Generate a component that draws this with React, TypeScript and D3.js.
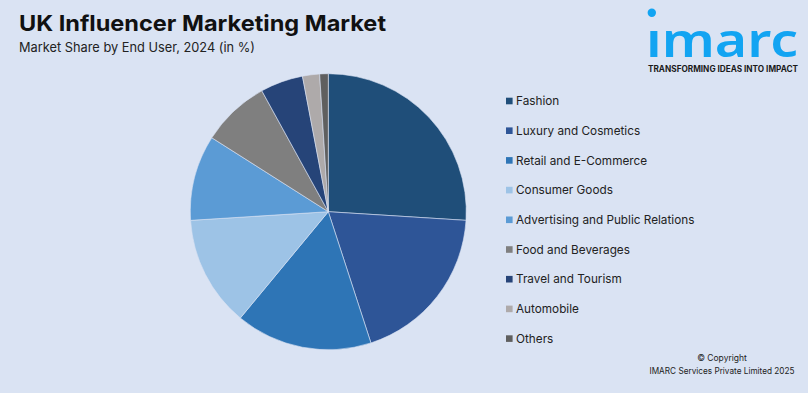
import * as d3 from "d3";

const categories = [
  "Fashion",
  "Luxury and Cosmetics",
  "Retail and E-Commerce",
  "Consumer Goods",
  "Advertising and Public Relations",
  "Food and Beverages",
  "Travel and Tourism",
  "Automobile",
  "Others",
];
const shares = [26, 19, 16, 13, 10, 8, 5, 2, 1];
const colors = [
  "#1f4e79",
  "#2e5597",
  "#2e75b6",
  "#9dc3e6",
  "#5b9bd5",
  "#7f7f7f",
  "#264478",
  "#aeaaaa",
  "#5f5f5f",
];

const W = 808;
const H = 393;
const BG = "#dae3f3";
const FONT = "Inter, 'Liberation Sans', sans-serif";

export default function App() {
  const cx = 328.3;
  const cy = 211.7;
  const radius = 138;

  const pie = d3
    .pie<number>()
    .sort(null)
    .value((d) => d);
  const arc = d3.arc<d3.PieArcDatum<number>>().innerRadius(0).outerRadius(radius);
  const arcs = pie(shares);

  const legendY = d3
    .scalePoint<string>()
    .domain(categories)
    .range([101, 338.6]);

  return (
    <div style={{ position: "fixed", left: 0, top: 0 }}>
      <svg width={W} height={H} viewBox={`0 0 ${W} ${H}`} style={{ display: "block" }}>
        <rect width={W} height={H} fill={BG} />

        <text
          x={19}
          y={30.5}
          fontFamily={FONT}
          fontWeight={700}
          fontSize={22}
          fill="#111"
          textLength={367}
          lengthAdjust="spacingAndGlyphs"
        >
          UK Influencer Marketing Market
        </text>
        <text
          x={19}
          y={51.5}
          fontFamily={FONT}
          fontSize={13}
          fill="#222"
          textLength={236}
          lengthAdjust="spacingAndGlyphs"
        >
          Market Share by End User, 2024 (in %)
        </text>

        {/* logo */}
        <g fill="#12a4f2">
          <circle cx={651.8} cy={12.8} r={4.2} />
          <text
            x={646}
            y={57}
            fontFamily="'Noto Sans', sans-serif"
            fontWeight={600}
            fontSize={46}
            textLength={152}
            lengthAdjust="spacingAndGlyphs"
          >
            ımarc
          </text>
        </g>
        <text
          x={648}
          y={72}
          fontFamily={FONT}
          fontWeight={700}
          fontSize={8.4}
          fill="#1a1a1a"
          textLength={150}
          lengthAdjust="spacingAndGlyphs"
        >
          TRANSFORMING IDEAS INTO IMPACT
        </text>

        <g transform={`translate(${cx},${cy})`}>
          {arcs.map((a, i) => (
            <path key={categories[i]} d={arc(a) ?? ""} fill={colors[i]} stroke={BG} strokeWidth={0.6} />
          ))}
        </g>

        <g>
          {categories.map((c, i) => {
            const y = legendY(c) ?? 0;
            return (
              <g key={c}>
                <rect x={506} y={y - 3.3} width={6.6} height={6.6} fill={colors[i]} />
                <text
                  x={516}
                  y={y}
                  dy="0.36em"
                  fontFamily={FONT}
                  fontSize={11.75}
                  fill="#222"
                >
                  {c}
                </text>
              </g>
            );
          })}
        </g>

        <text x={722} y={361} textAnchor="middle" fontFamily={FONT} fontSize={8.5} fill="#222">
          © Copyright
        </text>
        <text
          x={722}
          y={374}
          textAnchor="middle"
          fontFamily={FONT}
          fontSize={8.5}
          fill="#222"
          textLength={145}
          lengthAdjust="spacingAndGlyphs"
        >
          IMARC Services Private Limited 2025
        </text>
      </svg>
    </div>
  );
}
